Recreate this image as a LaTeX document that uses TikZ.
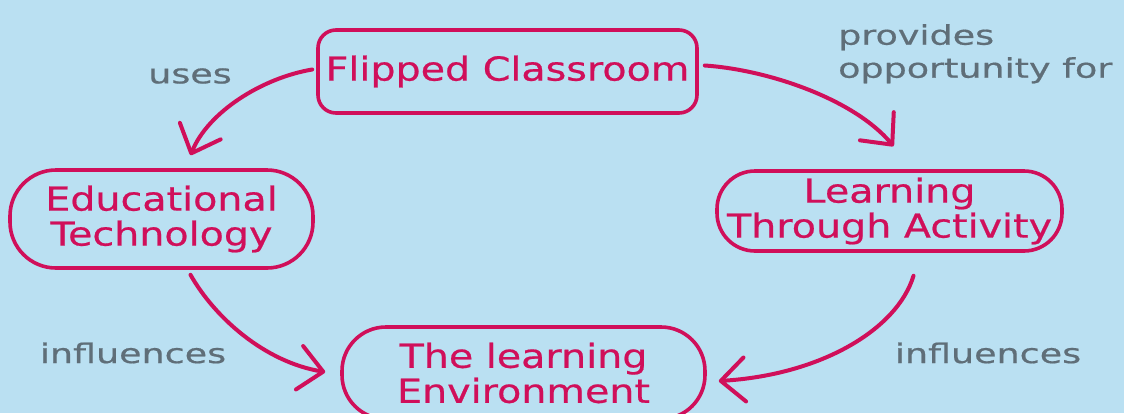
\documentclass[tikz,border=0pt]{standalone}
\usepackage{fontspec}
\usetikzlibrary{arrows.meta,calc}
\newfontfamily\hand[FakeStretch=1.2,FakeBold=0.6]{DejaVu Sans}
\newfontfamily\handg[FakeStretch=1.35,FakeBold=0.6]{DejaVu Sans}
\definecolor{bg}{HTML}{BAE0F2}
\definecolor{crim}{HTML}{D00F5A}
\definecolor{slate}{HTML}{5F6E78}
\tikzset{
  concept/.style={draw=crim, line width=3.6pt, text=crim, inner sep=0pt, align=center,
    font=\hand\fontsize{33}{35}\selectfont},
  lbl/.style={text=slate, inner sep=0pt, font=\handg\fontsize{27}{33}\selectfont},
  conn/.style={draw=crim, line width=4pt, line cap=round, line join=round,
    -{Straight Barb[length=24pt,width=44pt,line width=4pt,round]}}
}
\begin{document}
\begin{tikzpicture}[x=1pt,y=-1pt]
\fill[bg] (0,0) rectangle (1124,413);
\useasboundingbox (0,0) rectangle (1124,413);

\node[concept, minimum width=379pt, minimum height=83pt, rounded corners=18pt] (fc) at (507.5,71.5) {Flipped Classroom};
\node[concept, minimum width=303pt, minimum height=98pt, rounded corners=46pt] (et) at (161.5,219) {Educational\\Technology};
\node[concept, minimum width=345pt, minimum height=80pt, rounded corners=38pt] (lta) at (889.5,211) {Learning\\Through Activity};
\node[concept, minimum width=363pt, minimum height=92pt, rounded corners=44pt] (env) at (523.5,373) {The learning\\Environment};

\node[lbl] (uses) at (190,76) {uses};
\node[lbl, anchor=north west, align=left] (prov) at (838,24) {provides\\opportunity for};
\node[lbl] (infl1) at (133,353) {influences};
\node[lbl] (infl2) at (988,353) {influences};

\draw[conn] ($(fc.west)+(-4,-2)$) .. controls (262,78) and (208,112) .. ($(et.north)+(29,-13)$);
\draw[conn] ($(fc.east)+(6,-6)$) .. controls (770,70) and (855,100) .. ($(lta.north)+(4,-23)$);
\draw[conn] ($(et.south)+(29,5)$) .. controls (215,318) and (265,362) .. ($(env.west)+(-15,-1)$);
\draw[conn] ($(lta.south)+(24,23)$) .. controls (897,330) and (820,375) .. ($(env.east)+(12,8)$);
\end{tikzpicture}
\end{document}
